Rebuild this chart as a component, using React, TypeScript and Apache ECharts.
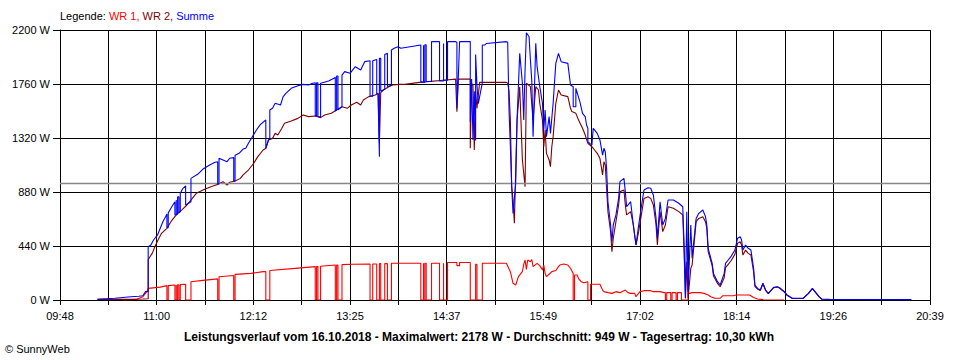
import React, { useEffect, useRef } from "react";
import * as echarts from "echarts";

const TICK_LABELS = ["09:48", "11:00", "12:12", "13:25", "14:37", "15:49", "17:02", "18:14", "19:26", "20:39"];
const Y_MAX = 2200;
const Y_STEP = 440;
const AVERAGE = 949;
const TITLE = "Leistungsverlauf vom 16.10.2018 - Maximalwert: 2178 W - Durchschnitt: 949 W - Tagesertrag: 10,30 kWh";

const WR1: [string, number][] = [
  ["10:35", 0], ["10:45", 5], ["10:50", 27], ["10:53", 68], ["10:54", 95],
  ["11:03", 105], ["11:08", 117], ["11:08", 0], ["11:09", 0], ["11:09", 117],
  ["11:14", 122], ["11:14", 0], ["11:15", 0], ["11:15", 122], ["11:15", 0], ["11:16", 0], ["11:16", 124], ["11:17", 124], ["11:17", 0], ["11:18", 0], ["11:18", 125],
  ["11:22", 128], ["11:22", 0], ["11:26", 0], ["11:26", 149],
  ["11:35", 160], ["11:46", 172], ["11:46", 0], ["11:47", 0], ["11:47", 190],
  ["11:58", 200], ["11:58", 0], ["11:59", 0], ["11:59", 209],
  ["12:11", 217], ["12:20", 231], ["12:22", 231], ["12:22", 0], ["12:25", 0], ["12:25", 240],
  ["12:44", 258], ["12:59", 272], ["12:59", 0], ["13:00", 0], ["13:00", 272], ["13:01", 272], ["13:01", 0], ["13:03", 0], ["13:03", 275],
  ["13:14", 285], ["13:14", 0], ["13:15", 0], ["13:15", 285], ["13:16", 285], ["13:16", 0], ["13:19", 0], ["13:19", 288],
  ["13:27", 291], ["13:40", 293], ["13:40", 0], ["13:42", 0], ["13:42", 293], ["13:45", 293], ["13:45", 0], ["13:47", 0], ["13:47", 296], ["13:48", 296], ["13:48", 0], ["13:51", 0], ["13:51", 296], ["13:53", 296], ["13:53", 0], ["13:56", 0], ["13:56", 299],
  ["14:18", 299], ["14:18", 0], ["14:20", 0], ["14:20", 299], ["14:20", 0], ["14:21", 0], ["14:21", 299], ["14:22", 299], ["14:22", 0], ["14:26", 0], ["14:26", 299],
  ["14:32", 299], ["14:32", 0], ["14:35", 0], ["14:35", 299], ["14:35", 0], ["14:38", 0], ["14:38", 305],
  ["14:45", 305], ["14:45", 280], ["14:47", 280], ["14:47", 305], ["14:55", 305], ["14:55", 0], ["14:59", 0], ["14:59", 290], ["15:00", 290], ["15:00", 0], ["15:04", 0], ["15:04", 300],
  ["15:22", 299], ["15:25", 231], ["15:27", 136], ["15:29", 122], ["15:31", 190], ["15:34", 231], ["15:35", 290], ["15:36", 326], ["15:37", 250], ["15:38", 326], ["15:40", 312], ["15:41", 330], ["15:42", 272], ["15:45", 299], ["15:47", 280], ["15:49", 244], ["15:50", 285], ["15:51", 217], ["15:52", 190], ["15:55", 220], ["15:56", 231], ["15:59", 240], ["16:01", 272], ["16:02", 285], ["16:05", 293], ["16:08", 285], ["16:10", 258], ["16:12", 217], ["16:12", 0], ["16:13", 0], ["16:13", 204], ["16:15", 204], ["16:16", 175], ["16:18", 149], ["16:20", 140], ["16:23", 149], ["16:23", 0], ["16:25", 0], ["16:25", 128],
  ["16:32", 128], ["16:34", 81], ["16:35", 68], ["16:38", 60], ["16:41", 54], ["16:44", 68], ["16:47", 60], ["16:51", 81], ["16:53", 60], ["16:55", 54], ["16:58", 54], ["16:59", 27], ["17:00", 41], ["17:02", 68], ["17:05", 76], ["17:10", 76], ["17:12", 68], ["17:17", 68], ["17:20", 60],
  ["17:21", 60], ["17:21", 0], ["17:22", 0], ["17:22", 60], ["17:25", 60], ["17:25", 0], ["17:26", 0], ["17:26", 60], ["17:29", 60], ["17:29", 0], ["17:30", 0], ["17:30", 60], ["17:33", 60], ["17:33", 0], ["17:38", 0], ["17:38", 50],
  ["17:41", 60], ["17:47", 60], ["17:50", 54], ["17:53", 41], ["17:55", 27], ["17:58", 14], ["18:02", 14], ["18:04", 35], ["18:12", 35], ["18:14", 41], ["18:24", 41], ["18:27", 20], ["18:30", 8], ["18:34", 3], ["18:50", 0],
];

const WR2: [string, number][] = [
  ["10:16", 5], ["10:41", 5], ["10:50", 8], ["10:54", 10], ["10:54", 330], ["10:57", 380], ["10:59", 434], ["11:02", 503], ["11:04", 543], ["11:08", 584], ["11:11", 638], ["11:15", 693], ["11:19", 733], ["11:23", 774], ["11:27", 828], ["11:30", 869], ["11:35", 896], ["11:39", 915], ["11:43", 931], ["11:46", 942], ["11:50", 964], ["11:53", 937], ["11:55", 959], ["11:59", 969],
  ["12:03", 991], ["12:05", 1019], ["12:09", 1059], ["12:13", 1114], ["12:16", 1168], ["12:20", 1222], ["12:22", 1236], ["12:24", 1304], ["12:27", 1317], ["12:29", 1358], ["12:31", 1344], ["12:34", 1399], ["12:36", 1440], ["12:41", 1459], ["12:46", 1480], ["12:50", 1507], ["12:54", 1494], ["12:59", 1499],
  ["13:03", 1486], ["13:06", 1507], ["13:11", 1521], ["13:15", 1548], ["13:19", 1575], ["13:23", 1562], ["13:26", 1589], ["13:30", 1611], ["13:33", 1589], ["13:35", 1630], ["13:39", 1657], ["13:44", 1670], ["13:46", 1684], ["13:47", 1277], ["13:48", 1690], ["13:50", 1711], ["13:54", 1738], ["13:57", 1752],
  ["14:02", 1757], ["14:06", 1757], ["14:17", 1773], ["14:37", 1793], ["14:44", 1800], ["14:45", 1535], ["14:46", 1800], ["14:55", 1800], ["14:55", 1236], ["14:56", 1750], ["14:57", 1760], ["14:58", 1222], ["14:59", 1700], ["15:00", 1560], ["15:02", 1773], ["15:22", 1773],
  ["15:23", 1766], ["15:24", 1700], ["15:25", 1467], ["15:26", 923], ["15:27", 815], ["15:28", 625], ["15:29", 1059], ["15:30", 1467], ["15:32", 1738], ["15:34", 1141], ["15:36", 923], ["15:37", 1766], ["15:40", 1738], ["15:41", 1600], ["15:42", 1467], ["15:44", 1738], ["15:46", 1711], ["15:47", 1603], ["15:49", 1467], ["15:50", 1249], ["15:51", 1385], ["15:52", 1195], ["15:54", 1141], ["15:55", 1086], ["15:56", 1249], ["15:57", 1331], ["15:59", 1603],
  ["16:01", 1711], ["16:03", 1670], ["16:08", 1657], ["16:10", 1562], ["16:11", 1535], ["16:14", 1521], ["16:16", 1467], ["16:19", 1399], ["16:21", 1344], ["16:23", 1277], ["16:26", 1249], ["16:28", 1222], ["16:30", 1195], ["16:32", 1154], ["16:34", 1019], ["16:35", 1127], ["16:36", 1100], ["16:38", 720], ["16:40", 557], ["16:41", 394], ["16:42", 503], ["16:44", 638], ["16:46", 774], ["16:47", 883], ["16:50", 896], ["16:51", 774], ["16:52", 693], ["16:55", 720], ["16:57", 611], ["16:59", 448],
  ["17:01", 557], ["17:03", 693], ["17:05", 828], ["17:08", 842], ["17:10", 828], ["17:12", 774], ["17:14", 611], ["17:15", 448], ["17:17", 720], ["17:19", 557], ["17:21", 611], ["17:23", 760], ["17:27", 747], ["17:31", 720], ["17:34", 693], ["17:35", 394], ["17:36", 14], ["17:37", 312], ["17:38", 14], ["17:40", 258], ["17:41", 285], ["17:44", 638], ["17:46", 665], ["17:49", 679], ["17:51", 638], ["17:52", 584], ["17:53", 394], ["17:56", 280], ["17:57", 195],
  ["18:00", 135], ["18:02", 108], ["18:05", 182], ["18:06", 264], ["18:08", 291], ["18:10", 318], ["18:13", 372], ["18:15", 462], ["18:17", 475], ["18:18", 448], ["18:19", 366], ["18:21", 407], ["18:23", 380], ["18:25", 366], ["18:27", 230], ["18:28", 110], ["18:30", 88], ["18:32", 78], ["18:34", 133], ["18:36", 78], ["18:38", 51], ["18:42", 100], ["18:45", 105], ["18:47", 92], ["18:50", 65], ["18:52", 38], ["18:56", 12],
  ["19:04", 12], ["19:08", 52], ["19:11", 93], ["19:13", 66], ["19:16", 25], ["19:18", 6], ["19:24", 4], ["20:25", 2],
];

const SUMME: [string, number][] = [
  ["10:16", 6], ["10:29", 14], ["10:41", 27], ["10:47", 30], ["10:50", 35], ["10:52", 68], ["10:54", 70], ["10:54", 434], ["10:56", 448], ["10:58", 489], ["11:01", 530], ["11:03", 584], ["11:05", 638], ["11:07", 679], ["11:08", 700], ["11:08", 590], ["11:09", 590], ["11:09", 710], ["11:11", 747], ["11:14", 801], ["11:14", 693], ["11:15", 693], ["11:15", 815], ["11:15", 700], ["11:16", 700], ["11:16", 840], ["11:17", 840], ["11:17", 710], ["11:18", 720], ["11:18", 869],
  ["11:20", 910], ["11:22", 930], ["11:22", 774], ["11:26", 800], ["11:26", 991], ["11:31", 1024], ["11:35", 1067], ["11:40", 1100], ["11:44", 1122], ["11:46", 1127], ["11:46", 942], ["11:47", 950], ["11:47", 1155], ["11:50", 1141], ["11:53", 1127], ["11:55", 1155], ["11:58", 1160], ["11:58", 969], ["11:59", 969], ["11:59", 1180],
  ["12:02", 1195], ["12:05", 1230], ["12:07", 1236], ["12:09", 1277], ["12:12", 1331], ["12:15", 1385], ["12:18", 1431], ["12:22", 1467], ["12:22", 1236], ["12:24", 1304], ["12:25", 1317], ["12:25", 1548], ["12:27", 1562], ["12:29", 1603], ["12:33", 1589], ["12:35", 1657], ["12:37", 1684], ["12:41", 1725], ["12:46", 1746], ["12:50", 1757], ["12:54", 1752], ["12:57", 1766],
  ["12:59", 1770], ["12:59", 1499], ["13:00", 1499], ["13:00", 1770], ["13:01", 1770], ["13:01", 1495], ["13:03", 1490], ["13:03", 1766], ["13:09", 1785], ["13:13", 1806], ["13:14", 1815], ["13:14", 1540], ["13:15", 1548], ["13:15", 1825], ["13:16", 1825], ["13:16", 1550], ["13:19", 1575], ["13:19", 1833], ["13:21", 1861], ["13:25", 1847], ["13:29", 1901], ["13:33", 1874], ["13:36", 1942],
  ["13:40", 1950], ["13:40", 1660], ["13:42", 1660], ["13:42", 1950], ["13:45", 1960], ["13:45", 1680], ["13:46", 1680], ["13:47", 1168], ["13:47", 1690], ["13:47", 1969], ["13:48", 1969], ["13:48", 1700], ["13:51", 1720], ["13:51", 2000], ["13:53", 2010], ["13:53", 1740], ["13:56", 1750], ["13:56", 2037], ["13:58", 2051],
  ["14:01", 2064], ["14:03", 2051], ["14:10", 2064], ["14:18", 2078], ["14:18", 1775], ["14:20", 1775], ["14:20", 2075], ["14:20", 1775], ["14:21", 1775], ["14:21", 2080], ["14:22", 2080], ["14:22", 1780], ["14:26", 1780], ["14:26", 2105], ["14:32", 2105], ["14:32", 1785], ["14:35", 1785], ["14:35", 2090], ["14:35", 1790], ["14:38", 1790], ["14:38", 2105],
  ["14:44", 2105], ["14:45", 2100], ["14:45", 1560], ["14:46", 1800], ["14:47", 2105], ["14:55", 2105], ["14:55", 1450], ["14:56", 1800], ["14:57", 1304], ["14:58", 1700], ["14:59", 1300], ["14:59", 2000], ["15:00", 1750], ["15:01", 1600], ["15:04", 1770], ["15:04", 2078], ["15:06", 2078], ["15:07", 2090], ["15:22", 2105],
  ["15:23", 2100], ["15:24", 1548], ["15:25", 1250], ["15:26", 923], ["15:27", 706], ["15:29", 951], ["15:30", 1467], ["15:32", 2010], ["15:34", 1766], ["15:35", 1467], ["15:36", 1874], ["15:37", 2178], ["15:39", 2145], ["15:40", 1956], ["15:41", 1793], ["15:42", 1331], ["15:44", 2092], ["15:45", 1901], ["15:47", 1738], ["15:49", 1603], ["15:50", 1385], ["15:51", 1548], ["15:52", 1331], ["15:54", 1494], ["15:55", 1358], ["15:57", 1603], ["15:59", 1928],
  ["16:01", 2010], ["16:03", 1942], ["16:08", 1928], ["16:10", 1752], ["16:12", 1738], ["16:12", 1575], ["16:14", 1575], ["16:14", 1725], ["16:17", 1616], ["16:19", 1521], ["16:21", 1494], ["16:22", 1426], ["16:23", 1400], ["16:23", 1290], ["16:25", 1270], ["16:26", 1263], ["16:27", 1399], ["16:30", 1358], ["16:32", 1304], ["16:34", 1181], ["16:35", 1236], ["16:36", 1208], ["16:37", 1073], ["16:38", 801], ["16:40", 611], ["16:41", 475], ["16:42", 611], ["16:44", 693], ["16:46", 828], ["16:47", 964], ["16:50", 991], ["16:51", 883], ["16:52", 760], ["16:55", 801], ["16:57", 611], ["16:59", 448],
  ["17:01", 611], ["17:03", 760], ["17:05", 896], ["17:08", 915], ["17:10", 910], ["17:12", 855], ["17:14", 665], ["17:15", 503], ["17:17", 801], ["17:19", 611], ["17:21", 665], ["17:23", 815], ["17:27", 815], ["17:31", 788], ["17:34", 760], ["17:35", 448], ["17:36", 14], ["17:37", 720], ["17:38", 68], ["17:40", 611], ["17:41", 340], ["17:44", 665], ["17:46", 706], ["17:49", 733], ["17:51", 679], ["17:52", 611], ["17:53", 421], ["17:56", 299], ["17:57", 217],
  ["18:00", 149], ["18:02", 122], ["18:05", 217], ["18:06", 299], ["18:08", 326], ["18:10", 353], ["18:13", 407], ["18:15", 503], ["18:17", 516], ["18:18", 489], ["18:19", 407], ["18:21", 448], ["18:23", 421], ["18:25", 407], ["18:27", 258], ["18:28", 122], ["18:30", 95], ["18:32", 81], ["18:34", 136], ["18:36", 81], ["18:38", 54], ["18:42", 103], ["18:45", 108], ["18:47", 95], ["18:50", 68], ["18:52", 41], ["18:56", 14],
  ["19:04", 14], ["19:08", 54], ["19:11", 95], ["19:13", 68], ["19:16", 27], ["19:18", 8], ["19:24", 5], ["20:25", 3],
];

const FONT = "'Liberation Sans', Arial, sans-serif";

const toMin = (s: string) => {
  const [h, m] = s.split(":").map(Number);
  return h * 60 + m;
};
const T0 = toMin(TICK_LABELS[0]);
const T1 = toMin(TICK_LABELS[TICK_LABELS.length - 1]);
const STEPS = (TICK_LABELS.length - 1) * 2;
const toX = (s: string) => ((toMin(s) - T0) / (T1 - T0)) * STEPS;
const conv = (arr: [string, number][]) => arr.map(([t, v]) => [toX(t), v]);

export default function App() {
  const ref = useRef<HTMLDivElement>(null);
  useEffect(() => {
    document.body.style.margin = "0";
    if (!ref.current) return;
    const chart = echarts.init(ref.current, undefined, { renderer: "svg" });
    const lineSeries = (name: string, color: string, data: [string, number][], z: number) => ({
      name,
      type: "line",
      data: conv(data),
      showSymbol: false,
      symbol: "none",
      silent: true,
      z,
      lineStyle: { color, width: 1.1 },
      emphasis: { disabled: true },
    });
    chart.setOption({
      animation: false,
      backgroundColor: "#ffffff",
      grid: { left: 60, right: 30, top: 30, bottom: 60 },
      xAxis: {
        type: "value",
        min: 0,
        max: STEPS,
        interval: 1,
        axisLine: { lineStyle: { color: "#000", width: 1 } },
        axisTick: { show: true, length: 5, lineStyle: { color: "#000" } },
        axisLabel: {
          color: "#000",
          fontSize: 11,
          fontFamily: FONT,
          margin: 10,
          formatter: (v: number) => {
            const k = Math.round(v);
            return k % 2 === 0 ? TICK_LABELS[k / 2] : "";
          },
        },
        splitLine: { show: true, lineStyle: { color: "#000", width: 1 } },
      },
      yAxis: {
        type: "value",
        min: 0,
        max: Y_MAX,
        interval: Y_STEP,
        axisLine: { show: true, lineStyle: { color: "#000", width: 1 } },
        axisTick: { show: true, length: 7, lineStyle: { color: "#000" } },
        axisLabel: {
          color: "#000",
          fontSize: 11,
          fontFamily: FONT,
          margin: 10,
          formatter: (v: number) => `${v} W`,
        },
        splitLine: { show: true, lineStyle: { color: "#000", width: 1 } },
      },
      series: [
        {
          ...lineSeries("WR 1", "#ff0000", WR1, 3),
          markLine: {
            silent: true,
            symbol: "none",
            label: { show: false },
            lineStyle: { color: "#888888", type: "solid", width: 1.3 },
            data: [{ yAxis: AVERAGE }],
          },
        },
        lineSeries("WR 2", "#800000", WR2, 4),
        lineSeries("Summe", "#0000ff", SUMME, 5),
      ],
      graphic: [
        {
          type: "text",
          left: 60,
          top: 10,
          style: {
            text: "{a|Legende: }{b|WR 1, }{c|WR 2, }{d|Summe}",
            font: `11px ${FONT}`,
            rich: {
              a: { fill: "#000", fontSize: 11, fontFamily: FONT },
              b: { fill: "#ff0000", fontSize: 11, fontFamily: FONT },
              c: { fill: "#800000", fontSize: 11, fontFamily: FONT },
              d: { fill: "#0000ff", fontSize: 11, fontFamily: FONT },
            },
          },
        },
        {
          type: "text",
          x: 479,
          y: 337,
          style: {
            text: TITLE,
            fill: "#000",
            font: `bold 12px ${FONT}`,
            textAlign: "center",
            textVerticalAlign: "middle",
          },
        },
        {
          type: "text",
          x: 5,
          y: 349,
          style: {
            text: "© SunnyWeb",
            fill: "#000",
            font: `11px ${FONT}`,
            textAlign: "left",
            textVerticalAlign: "middle",
          },
        },
      ],
    });
    return () => chart.dispose();
  }, []);
  return <div ref={ref} style={{ width: 960, height: 360 }} />;
}
